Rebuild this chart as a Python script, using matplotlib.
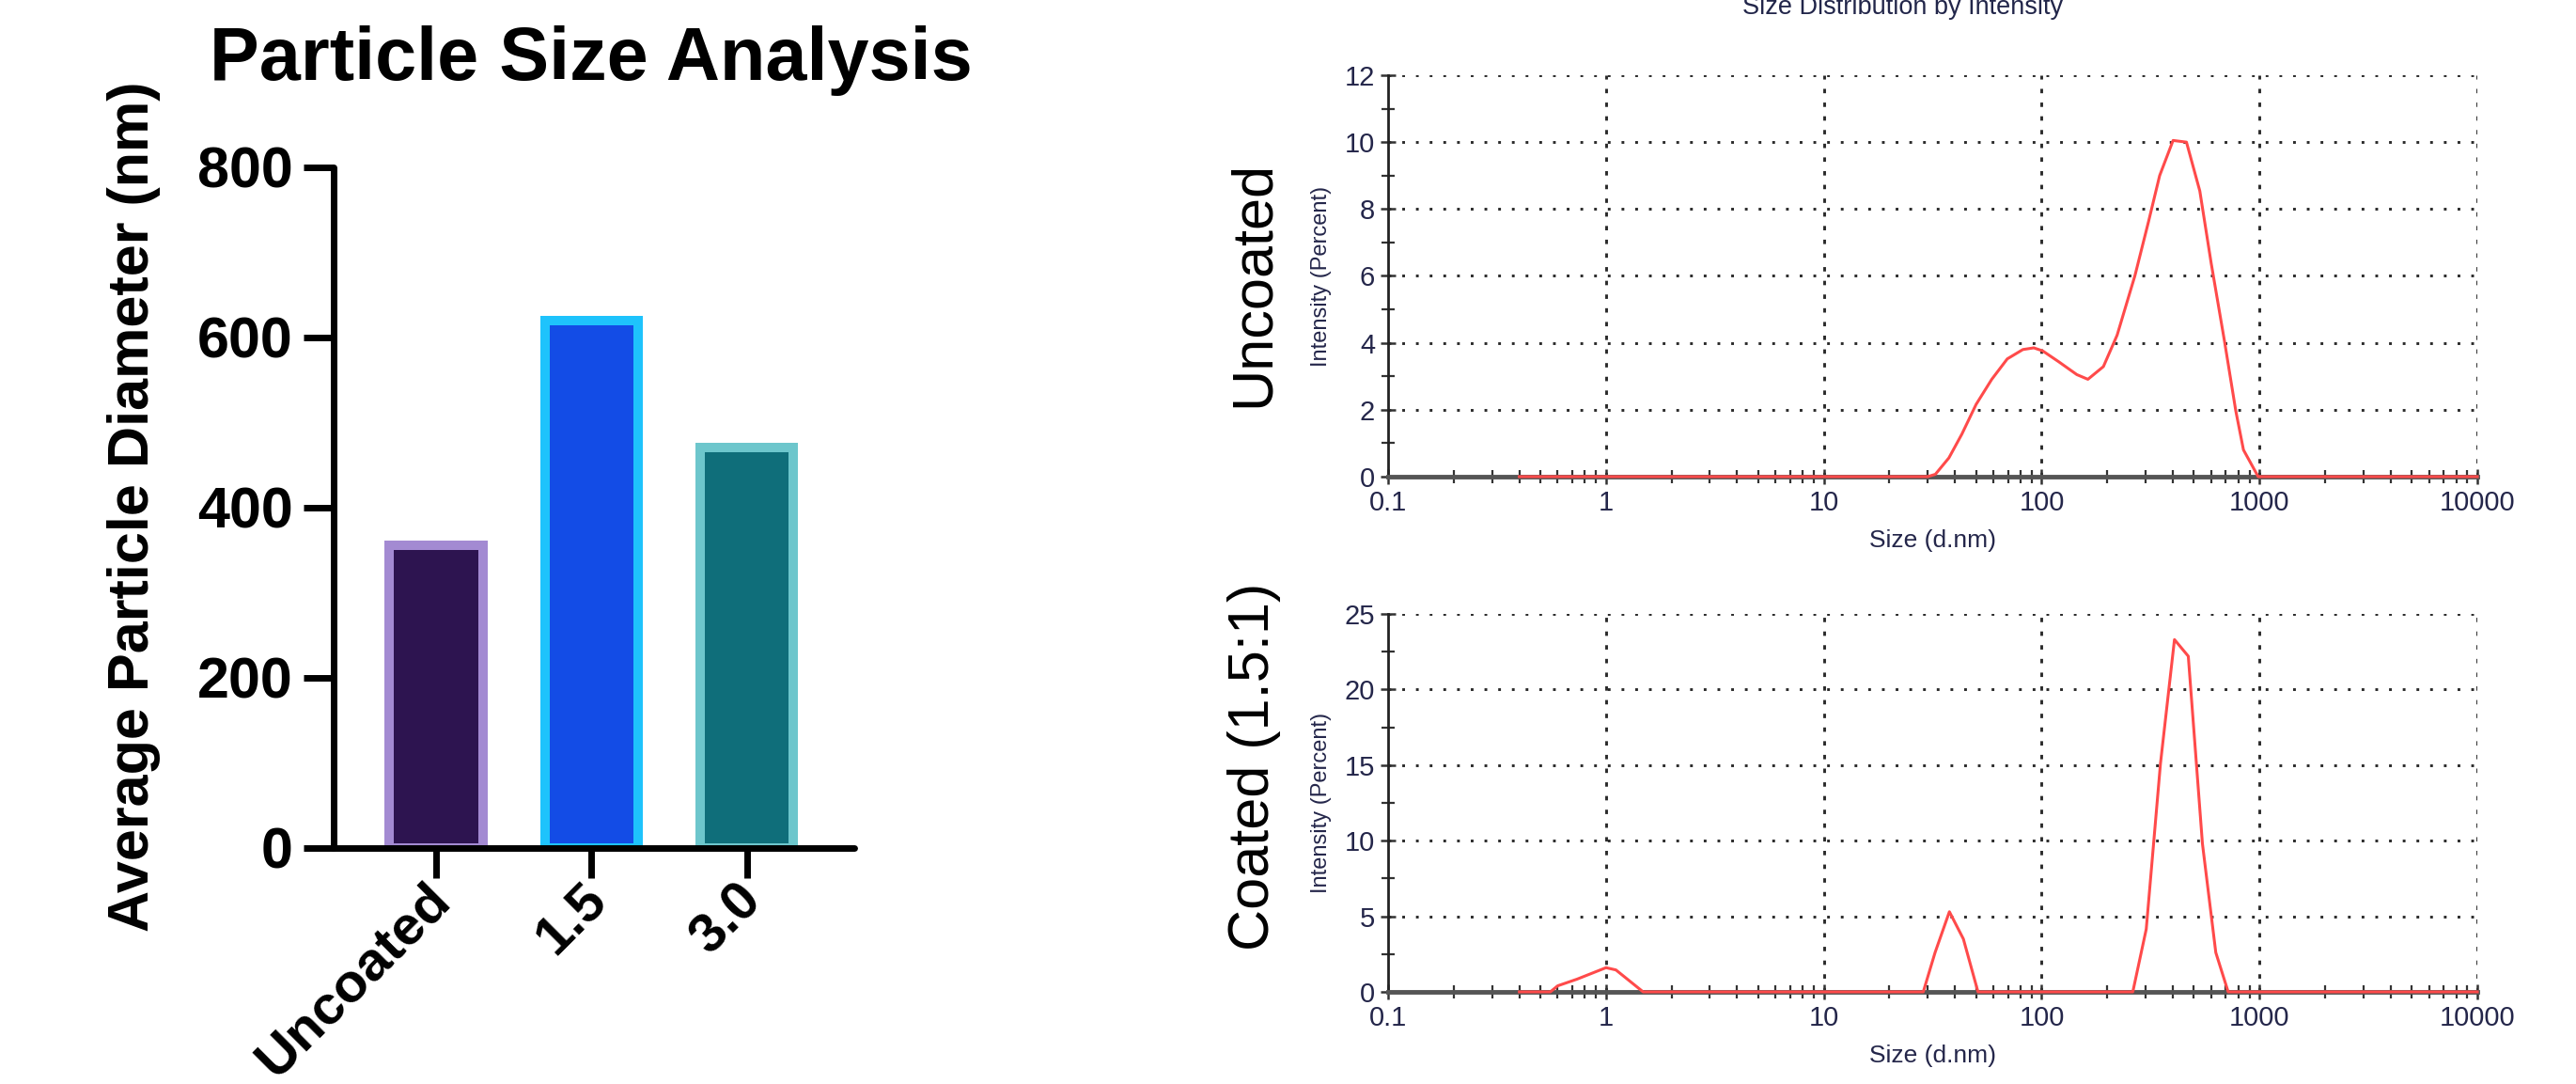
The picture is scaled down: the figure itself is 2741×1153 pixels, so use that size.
import numpy as np
import matplotlib.pyplot as plt
import matplotlib.transforms as mtransforms
from matplotlib.ticker import FixedLocator, NullFormatter

plt.rcParams['font.family'] = ['Liberation Sans', 'DejaVu Sans']

# bar chart data
groups = ['Uncoated', '1.5', '3.0']
diameters = [356, 620, 471]
fills = ['#2d1450', '#134ce6', '#0f6e7a']
edges = ['#a38ad2', '#1ec3fc', '#6dc6cc']

# size distribution by intensity
unc_size = [0.4, 30, 32.5, 37.5, 43, 50, 59, 69.5, 82, 92, 101, 120, 145, 163, 192,
            222, 268, 309, 348, 401, 462, 532, 600, 691, 778, 844, 986, 10000]
unc_int = [0, 0, 0.07, 0.56, 1.27, 2.16, 2.91, 3.52, 3.80, 3.85, 3.76, 3.43, 3.05, 2.91, 3.29,
           4.23, 6.01, 7.61, 9.0, 10.05, 10.0, 8.54, 6.38, 4.04, 1.97, 0.80, 0, 0]
coat_size = [0.4, 0.555, 0.60, 0.736, 1.0, 1.11, 1.48, 28.6, 32.4, 37.7, 43.7, 51,
             262, 302, 351, 407, 471, 547, 630, 718, 10000]
coat_int = [0, 0, 0.4, 0.84, 1.6, 1.45, 0, 0, 2.6, 5.3, 3.5, 0,
            0, 4.15, 15.1, 23.3, 22.2, 9.8, 2.6, 0, 0]

size_ticks = [0.1, 1, 10, 100, 1000, 10000]
size_labels = ['0.1', '1', '10', '100', '1000', '10000']

fig = plt.figure(figsize=(27.41, 11.53), dpi=100)

# ---- left: bar chart
ax = fig.add_axes([0.1295, 0.2177, 0.202, 0.628])
x = np.arange(len(groups))
ax.bar(x, diameters, width=0.6, color=fills, edgecolor=edges, linewidth=7.2, zorder=1)
ax.set_xlim(-0.66, 2.69)
ax.set_ylim(0, 800)
ax.set_yticks([0, 200, 400, 600, 800])
ax.set_xticks(x)
ax.set_xticklabels(groups, rotation=45, ha='right', rotation_mode='anchor')
for s in ['top', 'right']:
    ax.spines[s].set_visible(False)
for s in ['left', 'bottom']:
    ax.spines[s].set_linewidth(5)
    ax.spines[s].set_capstyle('round')
ax.tick_params(axis='both', width=5, length=23, labelsize=44, pad=8)
ax.tick_params(axis='x', labelsize=42)
shift = mtransforms.ScaledTranslation(-0.12, 0.15, fig.dpi_scale_trans)
for lab in ax.get_xticklabels():
    lab.set_transform(lab.get_transform() + shift)
for lab in ax.get_xticklabels() + ax.get_yticklabels():
    lab.set_fontweight('bold')

fig.text(0.2295, 0.944, 'Particle Size Analysis', ha='center', va='center',
         fontsize=57, fontweight='bold')
fig.text(0.052, 0.533, 'Average Particle Diameter (nm)', ha='center', va='center',
         rotation=90, fontsize=44, fontweight='bold')

# ---- right: DLS distributions
txt_col = '#24264a'


def dls_axes(rect, sizes, vals, ymax, ystep):
    a = fig.add_axes(rect)
    a.set_xscale('log')
    a.set_xlim(0.1, 10000)
    a.set_ylim(0, ymax)
    yt = np.arange(0, ymax + ystep, ystep)
    for v in yt[1:]:
        a.axhline(v, color='#2a2a2a', lw=2.1, ls=(0, (1, 4)), zorder=1)
    for v in size_ticks[1:]:
        a.axvline(v, color='#2a2a2a', lw=2.1, ls=(0, (1.6, 3.4)), zorder=1)
    a.plot(sizes, vals, color='#ff4a4a', lw=2.2, zorder=3, clip_on=False)
    a.set_yticks(yt)
    a.yaxis.set_minor_locator(FixedLocator(yt[:-1] + ystep / 2))
    a.set_xticks(size_ticks)
    a.set_xticklabels(size_labels)
    a.xaxis.set_minor_formatter(NullFormatter())
    for s in ['top', 'right']:
        a.spines[s].set_visible(False)
    a.spines['left'].set_color('#222222')
    a.spines['left'].set_linewidth(2)
    a.spines['bottom'].set_color('#555555')
    a.spines['bottom'].set_linewidth(3.5)
    a.tick_params(which='major', direction='inout', length=12, width=1.8,
                  color='#333333', labelsize=21, labelcolor=txt_col, pad=4)
    a.tick_params(which='minor', direction='inout', length=10, width=1.6, color='#333333')
    a.set_xlabel('Size (d.nm)', fontsize=19, color=txt_col, labelpad=10)
    a.set_ylabel('Intensity (Percent)', fontsize=17, color=txt_col, labelpad=10)
    return a


dls_axes([0.5389, 0.5603, 0.4228, 0.3703], unc_size, unc_int, 12, 2)
dls_axes([0.5389, 0.0850, 0.4228, 0.3487], coat_size, coat_int, 25, 5)

fig.text(0.7385, 0.987, 'Size Distribution by Intensity', ha='center', va='baseline',
         fontsize=19.5, color='#22264a')
fig.text(0.4867, 0.738, 'Uncoated', rotation=90, ha='center', va='center', fontsize=44)
fig.text(0.4867, 0.293, 'Coated (1.5:1)', rotation=90, ha='center', va='center', fontsize=44)

fig.savefig('out.png', dpi=100, facecolor='white')
